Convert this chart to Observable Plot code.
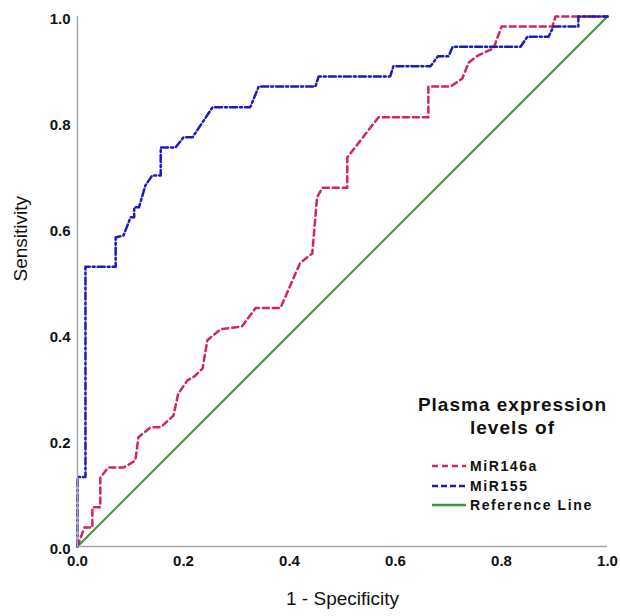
<!DOCTYPE html>
<html>
<head>
<meta charset="utf-8">
<script src="https://cdn.jsdelivr.net/npm/d3@7"></script>
<script src="https://cdn.jsdelivr.net/npm/@observablehq/plot@0.6"></script>
<style>
  html, body { margin: 0; padding: 0; background: #fff; }
  #wrap { position: relative; width: 620px; height: 616px; font-family: Arial, "Liberation Sans", sans-serif; }
  #legend { position: absolute; left: 0; top: 0; width: 620px; height: 616px; pointer-events: none; }
  .ltitle { position: absolute; left: 405px; width: 215px; text-align: center; font-weight: bold; font-size: 19px; letter-spacing: 1px; line-height: 23px; color: #111; }
  .litem { position: absolute; left: 432px; height: 20px; display: flex; align-items: center; font-weight: bold; font-size: 14px; letter-spacing: 1.6px; color: #111; }
  .litem svg { margin-right: 4px; }
</style>
</head>
<body>
<div id="wrap"><div id="legend"></div></div>
<script>
// ---- data ----
const miR146aX = [0, 0.013, 0.028, 0.028, 0.043, 0.043, 0.058, 0.087, 0.109, 0.115, 0.138, 0.157, 0.181, 0.19, 0.207, 0.222, 0.236, 0.245, 0.27, 0.31, 0.336, 0.383, 0.42, 0.443, 0.452, 0.462, 0.509, 0.509, 0.568, 0.662, 0.662, 0.704, 0.726, 0.738, 0.755, 0.785, 0.80, 0.896, 0.902, 1];
const miR146aY = [0, 0.036, 0.036, 0.074, 0.074, 0.13, 0.149, 0.149, 0.162, 0.206, 0.225, 0.225, 0.247, 0.288, 0.313, 0.322, 0.336, 0.389, 0.41, 0.415, 0.45, 0.45, 0.535, 0.553, 0.659, 0.677, 0.677, 0.734, 0.81, 0.81, 0.868, 0.868, 0.883, 0.913, 0.926, 0.94, 0.981, 0.981, 1, 1];
const miR155X = [0, 0, 0.015, 0.015, 0.072, 0.072, 0.087, 0.1, 0.107, 0.107, 0.116, 0.128, 0.141, 0.157, 0.157, 0.185, 0.2, 0.217, 0.255, 0.326, 0.342, 0.449, 0.455, 0.59, 0.596, 0.666, 0.68, 0.7, 0.708, 0.836, 0.849, 0.889, 0.898, 0.945, 0.945, 1];
const miR155Y = [0, 0.131, 0.131, 0.528, 0.528, 0.583, 0.587, 0.621, 0.621, 0.64, 0.64, 0.681, 0.70, 0.70, 0.753, 0.753, 0.772, 0.772, 0.829, 0.829, 0.868, 0.868, 0.887, 0.887, 0.906, 0.906, 0.925, 0.925, 0.943, 0.943, 0.962, 0.962, 0.981, 0.981, 1, 1];
const refX = [0, 1];
const refY = [0, 1];
const tickValues = [0, 0.2, 0.4, 0.6, 0.8, 1.0];
const seriesNames = ["MiR146a", "MiR155", "Reference Line"];
const legendTitle = ["Plasma expression", "levels of"];
const xLabel = "1 - Specificity";
const yLabel = "Sensitivity";

// ---- styles ----
const colors = { "MiR146a": "#d3265a", "MiR155": "#1b1bbd", "Reference Line": "#3b973b" };
const dashes = { "MiR146a": "6,4", "MiR155": "7,3,2,3", "Reference Line": null };

const toPts = (xs, ys) => xs.map((x, i) => ({ x, y: ys[i] }));
const red = toPts(miR146aX, miR146aY);
const blue = toPts(miR155X, miR155Y);
const ref = toPts(refX, refY);

const chart = Plot.plot({
  width: 620,
  height: 616,
  marginLeft: 77,
  marginRight: 13,
  marginTop: 16,
  marginBottom: 70,
  style: { fontFamily: "Arial, 'Liberation Sans', sans-serif", fontSize: "15px", background: "#fff", color: "#111" },
  x: { domain: [0, 1] },
  y: { domain: [0, 1] },
  marks: [
    Plot.axisX(tickValues, { tickSize: 0, tickPadding: 9, tickFormat: d => d.toFixed(1), fontWeight: "bold", fontSize: 15, label: null }),
    Plot.axisY(tickValues, { tickSize: 0, tickPadding: 7, dy: 3, tickFormat: d => d.toFixed(1), fontWeight: "bold", fontSize: 15, label: null }),
    Plot.line(ref, { x: "x", y: "y", stroke: colors["Reference Line"], strokeWidth: 2 }),
    Plot.line(red, { x: "x", y: "y", stroke: colors["MiR146a"], strokeWidth: 2.5, strokeDasharray: dashes["MiR146a"] }),
    Plot.line(blue, { x: "x", y: "y", stroke: colors["MiR155"], strokeWidth: 2.5, strokeDasharray: dashes["MiR155"] }),
    Plot.ruleX([0], { stroke: "#a6a6a6", strokeWidth: 1.5 }),
    Plot.ruleY([0], { stroke: "#a6a6a6", strokeWidth: 1.5 }),
    Plot.text([xLabel], { frameAnchor: "bottom", dy: 58, fontSize: 19, letterSpacing: 0.3, fill: "#111" }),
    Plot.text([yLabel], { frameAnchor: "left", dx: -57, rotate: -90, fontSize: 19, fill: "#111" })
  ]
});
const wrap = document.getElementById("wrap");
wrap.insertBefore(chart, wrap.firstChild);

// ---- legend ----
const lg = document.getElementById("legend");
legendTitle.forEach((t, i) => {
  const d = document.createElement("div");
  d.className = "ltitle";
  d.style.top = (393 + i * 23) + "px";
  d.textContent = t;
  lg.appendChild(d);
});
seriesNames.forEach((name, i) => {
  const row = document.createElement("div");
  row.className = "litem";
  row.style.top = (456 + i * 19.5) + "px";
  const dash = dashes[name] ? `stroke-dasharray="${name === "MiR155" ? "6,3" : "6,4"}"` : "";
  row.innerHTML = `<svg width="34" height="6"><line x1="0" y1="3" x2="34" y2="3" stroke="${colors[name]}" stroke-width="2.5" ${dash}></line></svg><span>${name}</span>`;
  lg.appendChild(row);
});
</script>
</body>
</html>
